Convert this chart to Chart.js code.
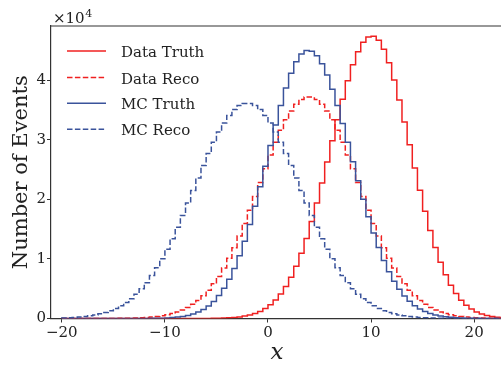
<!DOCTYPE html>
<html>
<head>
<meta charset="utf-8">
<script src="https://cdn.jsdelivr.net/npm/chart.js@4.4.1/dist/chart.umd.min.js"></script>
<style>
  html, body { margin: 0; padding: 0; background: #fff; }
  #wrap { width: 501px; height: 365px; overflow: hidden; }
</style>
</head>
<body>
<div id="wrap"><canvas id="histChart" width="510" height="365"></canvas></div>
<script>
// histogram binning: 86 bins of width 0.5 starting at -20
const binLow = -20;
const binWidth = 0.5;

// counts per bin
const dataTruth = [
    0, 0, 0, 0, 0, 0, 0, 0, 0, 0,
    0, 0, 0, 0, 0, 0, 0, 0, 0, 1,
    1, 1, 1, 2, 2, 4, 7, 11, 18, 30,
    48, 76, 119, 181, 272, 403, 588, 843, 1195, 1663,
    2290, 3090, 4100, 5360, 6910, 8760, 10940, 13440, 16270, 19390,
    22730, 26250, 29830, 33370, 36770, 39890, 42590, 44770, 46340, 47220,
    47360, 46670, 45160, 42920, 40040, 36680, 32990, 29140, 25270, 21520,
    17990, 14770, 11910, 9430, 7330, 5590, 4190, 3080, 2230, 1580,
    1100, 753, 506, 333, 216, 137
];
const dataReco = [
    0, 0, 0, 1, 1, 2, 3, 5, 8, 12,
    18, 27, 40, 58, 84, 121, 171, 238, 331, 454,
    615, 824, 1093, 1432, 1860, 2385, 3030, 3800, 4730, 5810,
    7060, 8490, 10100, 11890, 13840, 15940, 18150, 20460, 22800, 25140,
    27420, 29580, 31570, 33330, 34810, 35960, 36750, 37150, 37150, 36750,
    35960, 34810, 33330, 31570, 29580, 27420, 25140, 22800, 20460, 18150,
    15940, 13840, 11890, 10100, 8490, 7060, 5810, 4730, 3800, 3030,
    2385, 1860, 1432, 1093, 824, 615, 454, 331, 238, 171,
    121, 84, 58, 40, 27, 18
];
const mcTruth = [
    0, 0, 0, 0, 0, 0, 0, 0, 0, 0,
    0, 1, 1, 3, 5, 9, 14, 24, 39, 62,
    98, 153, 234, 351, 520, 756, 1082, 1521, 2107, 2871,
    3844, 5070, 6570, 8380, 10520, 12980, 15760, 18820, 22110, 25550,
    29040, 32480, 35720, 38660, 41150, 43080, 44380, 44970, 44840, 44090,
    42740, 40840, 38480, 35750, 32740, 29570, 26320, 23100, 19990, 17060,
    14350, 11900, 9730, 7840, 6240, 4890, 3780, 2880, 2160, 1600,
    1170, 841, 597, 418, 288, 196, 131, 87, 57, 36,
    23, 15, 9, 6, 4, 2
];
const mcReco = [
    95, 132, 182, 249, 336, 451, 598, 786, 1023, 1320,
    1686, 2133, 2676, 3321, 4090, 4982, 6018, 7195, 8527, 10010,
    11640, 13400, 15300, 17290, 19360, 21470, 23590, 25680, 27690, 29580,
    31300, 32810, 34080, 35050, 35720, 36060, 36060, 35720, 35050, 34080,
    32810, 31300, 29580, 27690, 25680, 23590, 21470, 19360, 17290, 15300,
    13400, 11640, 10010, 8527, 7195, 6018, 4982, 4090, 3321, 2676,
    2133, 1686, 1320, 1023, 786, 598, 451, 336, 249, 182,
    132, 95, 68, 48, 33, 23, 16, 11, 7, 5,
    3, 2, 1, 1, 0, 0
];

const seriesLabels = ['Data Truth', 'Data Reco', 'MC Truth', 'MC Reco'];
const xTicks = [-20, -10, 0, 10, 20];
const yTicks = [0, 10000, 20000, 30000, 40000];

const RED = '#f02020';
const BLUE = '#3a539b';
const FONT = "'DejaVu Serif', serif";
const INK = '#222';

// turn bin counts into step outline points (left edge of each bin, closed to zero at both ends)
function stepPoints(counts) {
    const pts = [{ x: binLow, y: 0 }];
    counts.forEach((c, i) => pts.push({ x: binLow + i * binWidth, y: c }));
    pts.push({ x: binLow + counts.length * binWidth, y: 0 });
    return pts;
}

function histDataset(label, counts, color, dashed, order) {
    return {
        label: label,
        data: stepPoints(counts),
        borderColor: color,
        backgroundColor: color,
        borderWidth: 1.5,
        borderDash: dashed ? [5.5, 2.4] : [],
        stepped: 'before',
        fill: false,
        pointRadius: 0,
        order: order
    };
}

const minus = v => (v < 0 ? '\u2212' + Math.abs(v) : String(v));

// top spine, offset text and legend drawn on the canvas
const extras = {
    id: 'extras',
    afterDraw(chart) {
        const ctx = chart.ctx;
        const a = chart.chartArea;
        ctx.save();
        ctx.strokeStyle = '#333';
        ctx.lineWidth = 1.2;
        ctx.beginPath();
        ctx.moveTo(a.left, a.top);
        ctx.lineTo(a.right, a.top);
        ctx.stroke();

        ctx.fillStyle = INK;
        ctx.textBaseline = 'alphabetic';
        ctx.textAlign = 'left';
        ctx.font = '15px ' + FONT;
        ctx.fillText('\u00d710', 53, 23);
        const w = ctx.measureText('\u00d710').width;
        ctx.font = '11px ' + FONT;
        ctx.fillText('4', 53 + w + 0.5, 17);

        const rowY = [51, 77.5, 103.3, 129.2];
        chart.data.datasets.forEach((ds, i) => {
            const y = rowY[i];
            ctx.strokeStyle = ds.borderColor;
            ctx.lineWidth = ds.borderWidth;
            ctx.setLineDash(ds.borderDash);
            ctx.beginPath();
            ctx.moveTo(67, y);
            ctx.lineTo(106, y);
            ctx.stroke();
            ctx.setLineDash([]);
            ctx.fillStyle = INK;
            ctx.font = '15px ' + FONT;
            ctx.fillText(ds.label, 121, y + 6);
        });
        ctx.restore();
    }
};

new Chart(document.getElementById('histChart'), {
    type: 'line',
    data: {
        datasets: [
            histDataset(seriesLabels[0], dataTruth, RED, false, 4),
            histDataset(seriesLabels[1], dataReco, RED, true, 3),
            histDataset(seriesLabels[2], mcTruth, BLUE, false, 2),
            histDataset(seriesLabels[3], mcReco, BLUE, true, 1)
        ]
    },
    options: {
        responsive: false,
        animation: false,
        devicePixelRatio: 1,
        layout: { padding: { top: 26, right: 7, left: 0, bottom: 0 } },
        plugins: { legend: { display: false }, tooltip: { enabled: false } },
        scales: {
            x: {
                type: 'linear',
                min: -21.05,
                max: 22.8,
                afterBuildTicks: s => { s.ticks = xTicks.map(v => ({ value: v })); },
                afterFit: s => { s.height = 46.5; },
                ticks: {
                    callback: v => minus(v),
                    font: { family: FONT, size: 15 },
                    color: INK,
                    padding: 2,
                    maxRotation: 0
                },
                grid: { drawOnChartArea: false, tickLength: 4, color: '#333', lineWidth: 1 },
                border: { color: '#333', width: 1.2 },
                title: {
                    display: true,
                    text: 'x',
                    color: INK,
                    font: { family: FONT, size: 23, style: 'italic', lineHeight: 1 },
                    padding: { top: 0, bottom: 0 }
                }
            },
            y: {
                min: 0,
                max: 49080,
                afterBuildTicks: s => { s.ticks = yTicks.map(v => ({ value: v })); },
                afterFit: s => { s.width = 51; },
                ticks: {
                    callback: v => String(v / 10000),
                    font: { family: FONT, size: 15 },
                    color: INK,
                    padding: 1
                },
                grid: { drawOnChartArea: false, tickLength: 4, color: '#333', lineWidth: 1 },
                border: { color: '#333', width: 1.2 },
                title: {
                    display: true,
                    text: 'Number of Events',
                    color: INK,
                    font: { family: FONT, size: 21, lineHeight: 1.2 },
                    padding: { top: 9, bottom: 0 }
                }
            }
        }
    },
    plugins: [extras]
});
</script>
</body>
</html>
